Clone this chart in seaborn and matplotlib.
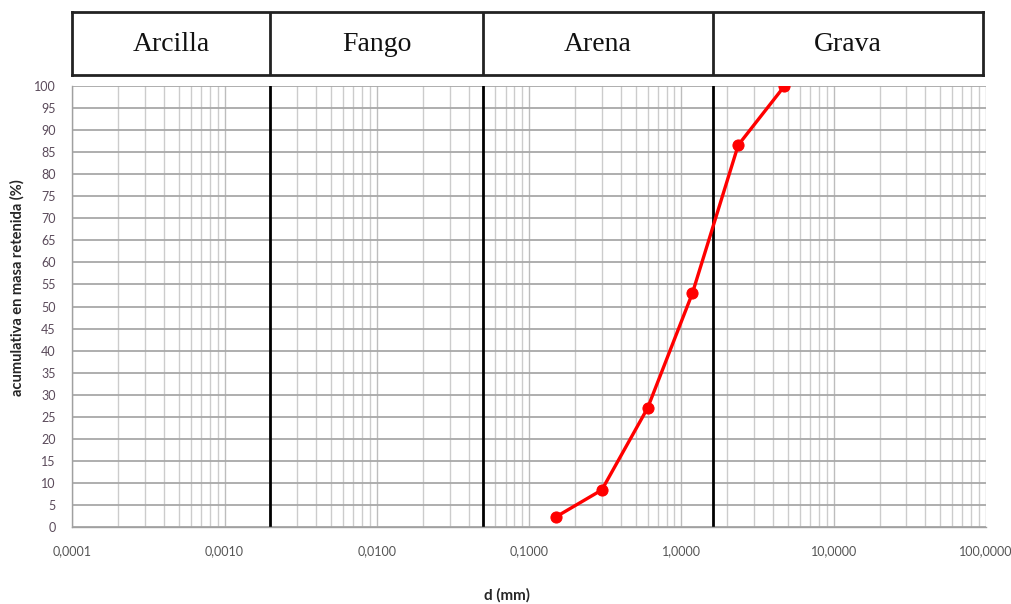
import matplotlib
matplotlib.use("Agg")
import matplotlib.pyplot as plt
import numpy as np
import pandas as pd
import seaborn as sns
from matplotlib.ticker import FixedLocator, LogLocator, NullFormatter

# Sieve opening (mm) and cumulative retained mass (%)
diametro_mm = [0.15, 0.30, 0.60, 1.18, 2.36, 4.75]
retenido_pct = [2.3, 8.4, 27.0, 53.0, 86.6, 100.0]

# Grain-size class boundaries (mm) and class names
limites_mm = [0.002, 0.05, 1.6]
clases = ["Arcilla", "Fango", "Arena", "Grava"]

x_ticks = [0.0001, 0.001, 0.01, 0.1, 1, 10, 100]
x_ticklabels = ["0,0001", "0,0010", "0,0100", "0,1000", "1,0000", "10,0000", "100,0000"]
y_ticks = list(range(0, 101, 5))

sns.set_style("white")
plt.rcParams["font.family"] = ["Lato", "DejaVu Sans"]

W, H = 1012, 604
fig = plt.figure(figsize=(W / 100, H / 100), dpi=100)


def box(x0, y0, x1, y1):
    return [x0 / W, 1 - y1 / H, (x1 - x0) / W, (y1 - y0) / H]


ax = fig.add_axes(box(72.3, 86, 986, 527))
df = pd.DataFrame({"d": diametro_mm, "ret": retenido_pct})

ax.set_xscale("log")
ax.set_xlim(1e-4, 100)
ax.set_ylim(0, 100)

# grid
ax.xaxis.set_minor_locator(LogLocator(base=10, subs=np.arange(2, 10), numticks=20))
ax.xaxis.set_minor_formatter(NullFormatter())
ax.grid(which="major", axis="x", color="#bdbdbd", lw=1.0)
ax.grid(which="minor", axis="x", color="#cccccc", lw=1.0)
ax.grid(which="major", axis="y", color="#a8a8a8", lw=1.3)
ax.set_axisbelow(True)

for b in limites_mm:
    ax.axvline(b, color="black", lw=2.0, zorder=2)

sns.lineplot(data=df, x="d", y="ret", ax=ax, color="#ff0000", lw=2.4,
             marker="o", markersize=8, markeredgecolor="#ff0000", zorder=3)

ax.xaxis.set_major_locator(FixedLocator(x_ticks))
ax.set_xticklabels(x_ticklabels)
ax.set_yticks(y_ticks)
ax.tick_params(axis="x", which="major", length=4, width=1, color="#a0a0a0",
               pad=9, labelsize=9, labelcolor="#555555")
ax.tick_params(axis="x", which="minor", length=0)
ax.tick_params(axis="y", length=4, width=1, color="#a0a0a0",
               pad=8, labelsize=9, labelcolor="#5a4a5a")
for s in ["top", "right"]:
    ax.spines[s].set_visible(False)
for s in ["left", "bottom"]:
    ax.spines[s].set_color("#a0a0a0")
    ax.spines[s].set_linewidth(1.0)

ax.set_xlabel("")
ax.set_ylabel("")
fig.text(17 / W, 1 - 288 / H, "acumulativa en masa retenida (%)", rotation=90,
         ha="center", va="center", fontsize=10.5, fontweight="bold", color="#262626")
fig.text(507 / W, 1 - 595 / H, "d (mm)", ha="center", va="center",
         fontsize=11, fontweight="bold", color="#262626")

# header with grain-size classes
hx = fig.add_axes(box(72.3, 12, 982.7, 75))
hx.set_xscale("log")
right = 10 ** (-4 + (982.7 - 72.3) / 152.28)
hx.set_xlim(1e-4, right)
hx.set_ylim(0, 1)
hx.set_xticks([])
hx.set_yticks([])
hx.minorticks_off()
for s in hx.spines.values():
    s.set_color("#222222")
    s.set_linewidth(2.0)
edges = [1e-4] + limites_mm + [right]
for b in limites_mm:
    hx.axvline(b, color="#222222", lw=2.0)
for i, name in enumerate(clases):
    xc = np.sqrt(edges[i] * edges[i + 1])
    hx.text(xc, 0.48, name, ha="center", va="center", fontsize=20,
            family=["Liberation Serif", "DejaVu Serif"], color="#111111")

fig.savefig("out.png", dpi=100, facecolor="white")
